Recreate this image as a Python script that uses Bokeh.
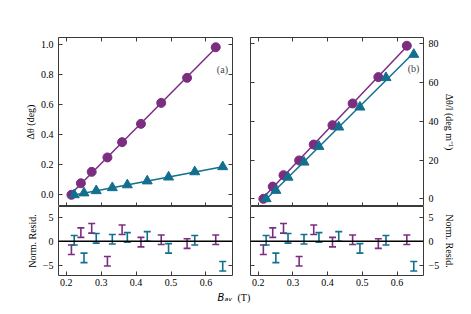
import numpy as np
from bokeh.plotting import figure
from bokeh.models import (LinearAxis, Label, Span, Whisker, ColumnDataSource,
                          Range1d, FixedTicker, TeeHead, Title)
from bokeh.layouts import row, column
from bokeh.embed import file_html
from bokeh.resources import INLINE

# ---------------- data ----------------
b_circ = [0.215, 0.242, 0.273, 0.318, 0.360, 0.414, 0.472, 0.546, 0.628]
b_tri = [0.223, 0.251, 0.286, 0.332, 0.375, 0.432, 0.493, 0.568, 0.648]
dtheta_circ = [0.0, 0.077, 0.153, 0.249, 0.351, 0.473, 0.613, 0.780, 0.984]
dtheta_tri = [0.0, 0.012, 0.027, 0.047, 0.066, 0.092, 0.118, 0.153, 0.187]
dtl_circ = [0.0, 6.3, 12.2, 19.8, 28.0, 38.0, 49.2, 62.8, 79.0]
dtl_tri = [0.0, 4.3, 11.1, 18.9, 27.0, 37.0, 47.3, 62.5, 74.5]
resid_circ = [-1.8, 1.8, 2.7, -4.2, 2.4, -0.2, 0.3, -0.5, 0.3]
resid_tri = [0.2, -3.5, 0.6, 0.4, 0.8, 1.0, -1.5, 0.2, -5.25]
resid_err = 1.0

x_ticks = [0.2, 0.3, 0.4, 0.5, 0.6]
ya_ticks = [0.0, 0.2, 0.4, 0.6, 0.8, 1.0]
yb_ticks = [0, 20, 40, 60, 80]
res_ticks = [-5, 0, 5]

PURPLE = "#7b2d80"
TEAL = "#136f8e"
FRAME = "#3a3a3a"
SERIF = "Liberation Serif"
SANS = "DejaVu Sans"

X_RANGE = (0.178, 0.676)

# layout: left figs 0..236, right figs 236..463 ; frames at x 58..232 / 250..423
LW, RW = 236, 227
TH, BH = 206, 103


def make_axis(ticks, labels, overrides=None, standoff=5, title=None):
    ax = LinearAxis(ticker=FixedTicker(ticks=ticks))
    ax.major_tick_in = 4
    ax.major_tick_out = 0
    ax.major_tick_line_color = FRAME
    ax.major_tick_line_width = 1
    ax.minor_tick_line_color = None
    ax.axis_line_color = None
    if labels:
        ax.major_label_text_font = SERIF
        ax.major_label_text_font_size = "10px"
        ax.major_label_text_color = "black"
        ax.major_label_standoff = standoff
        if overrides:
            ax.major_label_overrides = overrides
    else:
        ax.major_label_text_font_size = "1px"
        ax.major_label_text_color = None
        ax.major_label_standoff = 0
    if title:
        ax.axis_label = title
        ax.axis_label_text_font = SERIF
        ax.axis_label_text_font_size = "10px"
        ax.axis_label_text_font_style = "normal"
        ax.axis_label_text_color = "black"
        ax.axis_label_standoff = 2
    return ax


def base_fig(width, height, y_range, borders):
    l, r, t, b = borders
    p = figure(width=width, height=height, x_range=Range1d(*X_RANGE),
               y_range=Range1d(*y_range), x_axis_location=None, y_axis_location=None,
               min_border_left=l, min_border_right=r, min_border_top=t,
               min_border_bottom=b, toolbar_location=None, output_backend="svg")
    p.grid.visible = False
    p.outline_line_color = FRAME
    p.outline_line_width = 1
    p.background_fill_color = "white"
    p.border_fill_color = "white"
    return p


def fit_line(p, xs, ys, color):
    k, c = np.polyfit(xs, ys, 1)
    lx = [xs[0], xs[-1]]
    p.line(lx, [k * v + c for v in lx], line_color=color, line_width=1.5)


def series(p, xs, ys, color, marker):
    fit_line(p, xs, ys, color)
    if marker == "circle":
        p.scatter(xs, ys, marker="circle", size=9, fill_color=color, line_color=color)
    else:
        p.scatter(xs, ys, marker="triangle", size=10, fill_color=color, line_color=color)


def resid(p, xs, rs, color):
    src = ColumnDataSource(dict(x=xs, lo=[r - resid_err for r in rs],
                                hi=[r + resid_err for r in rs]))
    w = Whisker(source=src, base="x", lower="lo", upper="hi", line_color=color,
                line_width=1.6,
                upper_head=TeeHead(size=7, line_color=color, line_width=1.6),
                lower_head=TeeHead(size=7, line_color=color, line_width=1.6))
    p.add_layout(w)


# ---------------- (a) top left ----------------
tl = base_fig(LW, TH, (-0.078, 1.049), (58, 4, 37, 0))
tl.add_layout(make_axis(ya_ticks, True, {0.0: "0.0", 1.0: "1.0"}, title="Δθ (deg)"), "left")
tl.add_layout(make_axis(ya_ticks, False), "right")
tl.add_layout(make_axis(x_ticks, False), "below")
tl.add_layout(make_axis(x_ticks, False), "above")
series(tl, b_circ, dtheta_circ, PURPLE, "circle")
series(tl, b_tri, dtheta_tri, TEAL, "triangle")
tl.add_layout(Label(x=0.663, y=0.835, text="(a)", text_font=SERIF, text_font_size="10px",
                    text_align="right", text_baseline="middle"))

# ---------------- (b) top right ----------------
tr = base_fig(RW, TH, (-3.97, 83.25), (14, 40, 37, 0))
tr.add_layout(make_axis(yb_ticks, True, title="Δθ/l (deg m⁻¹)"), "right")
tr.add_layout(make_axis(yb_ticks, False), "left")
tr.add_layout(make_axis(x_ticks, False), "below")
tr.add_layout(make_axis(x_ticks, False), "above")
series(tr, b_circ, dtl_circ, PURPLE, "circle")
series(tr, b_tri, dtl_tri, TEAL, "triangle")
tr.add_layout(Label(x=0.664, y=67.3, text="(b)", text_font=SERIF, text_font_size="10px",
                    text_align="right", text_baseline="middle"))

# ---------------- residuals ----------------
res_over = {-5: "−5"}
bl = base_fig(LW, BH, (-7.19, 7.27), (58, 4, 0, 34))
bl.add_layout(make_axis(res_ticks, True, res_over, title="Norm. Resid."), "left")
bl.add_layout(make_axis(res_ticks, False), "right")
bl.add_layout(make_axis(x_ticks, True, standoff=3), "below")
bl.add_layout(Title(text="Bₐᵥ", align="right", offset=0, standoff=2,
                    text_font=SANS, text_font_size="10px", text_font_style="italic",
                    text_color="black"), "below")
bl.add_layout(Span(location=0, dimension="width", line_color="black", line_width=1.6))
resid(bl, b_circ, resid_circ, PURPLE)
resid(bl, b_tri, resid_tri, TEAL)

br = base_fig(RW, BH, (-7.19, 7.27), (14, 40, 0, 34))
br.add_layout(make_axis(res_ticks, True, res_over, title="Norm. Resid."), "right")
br.add_layout(make_axis(res_ticks, False), "left")
br.add_layout(make_axis(x_ticks, True, standoff=3), "below")
br.add_layout(Title(text="(T)", align="left", offset=-13, standoff=2,
                    text_font=SERIF, text_font_size="10px", text_font_style="normal",
                    text_color="black"), "below")
br.add_layout(Span(location=0, dimension="width", line_color="black", line_width=1.6))
resid(br, b_circ, resid_circ, PURPLE)
resid(br, b_tri, resid_tri, TEAL)

layout = column(row(tl, tr), row(bl, br))
open("out.html", "w").write(file_html(layout, INLINE))
